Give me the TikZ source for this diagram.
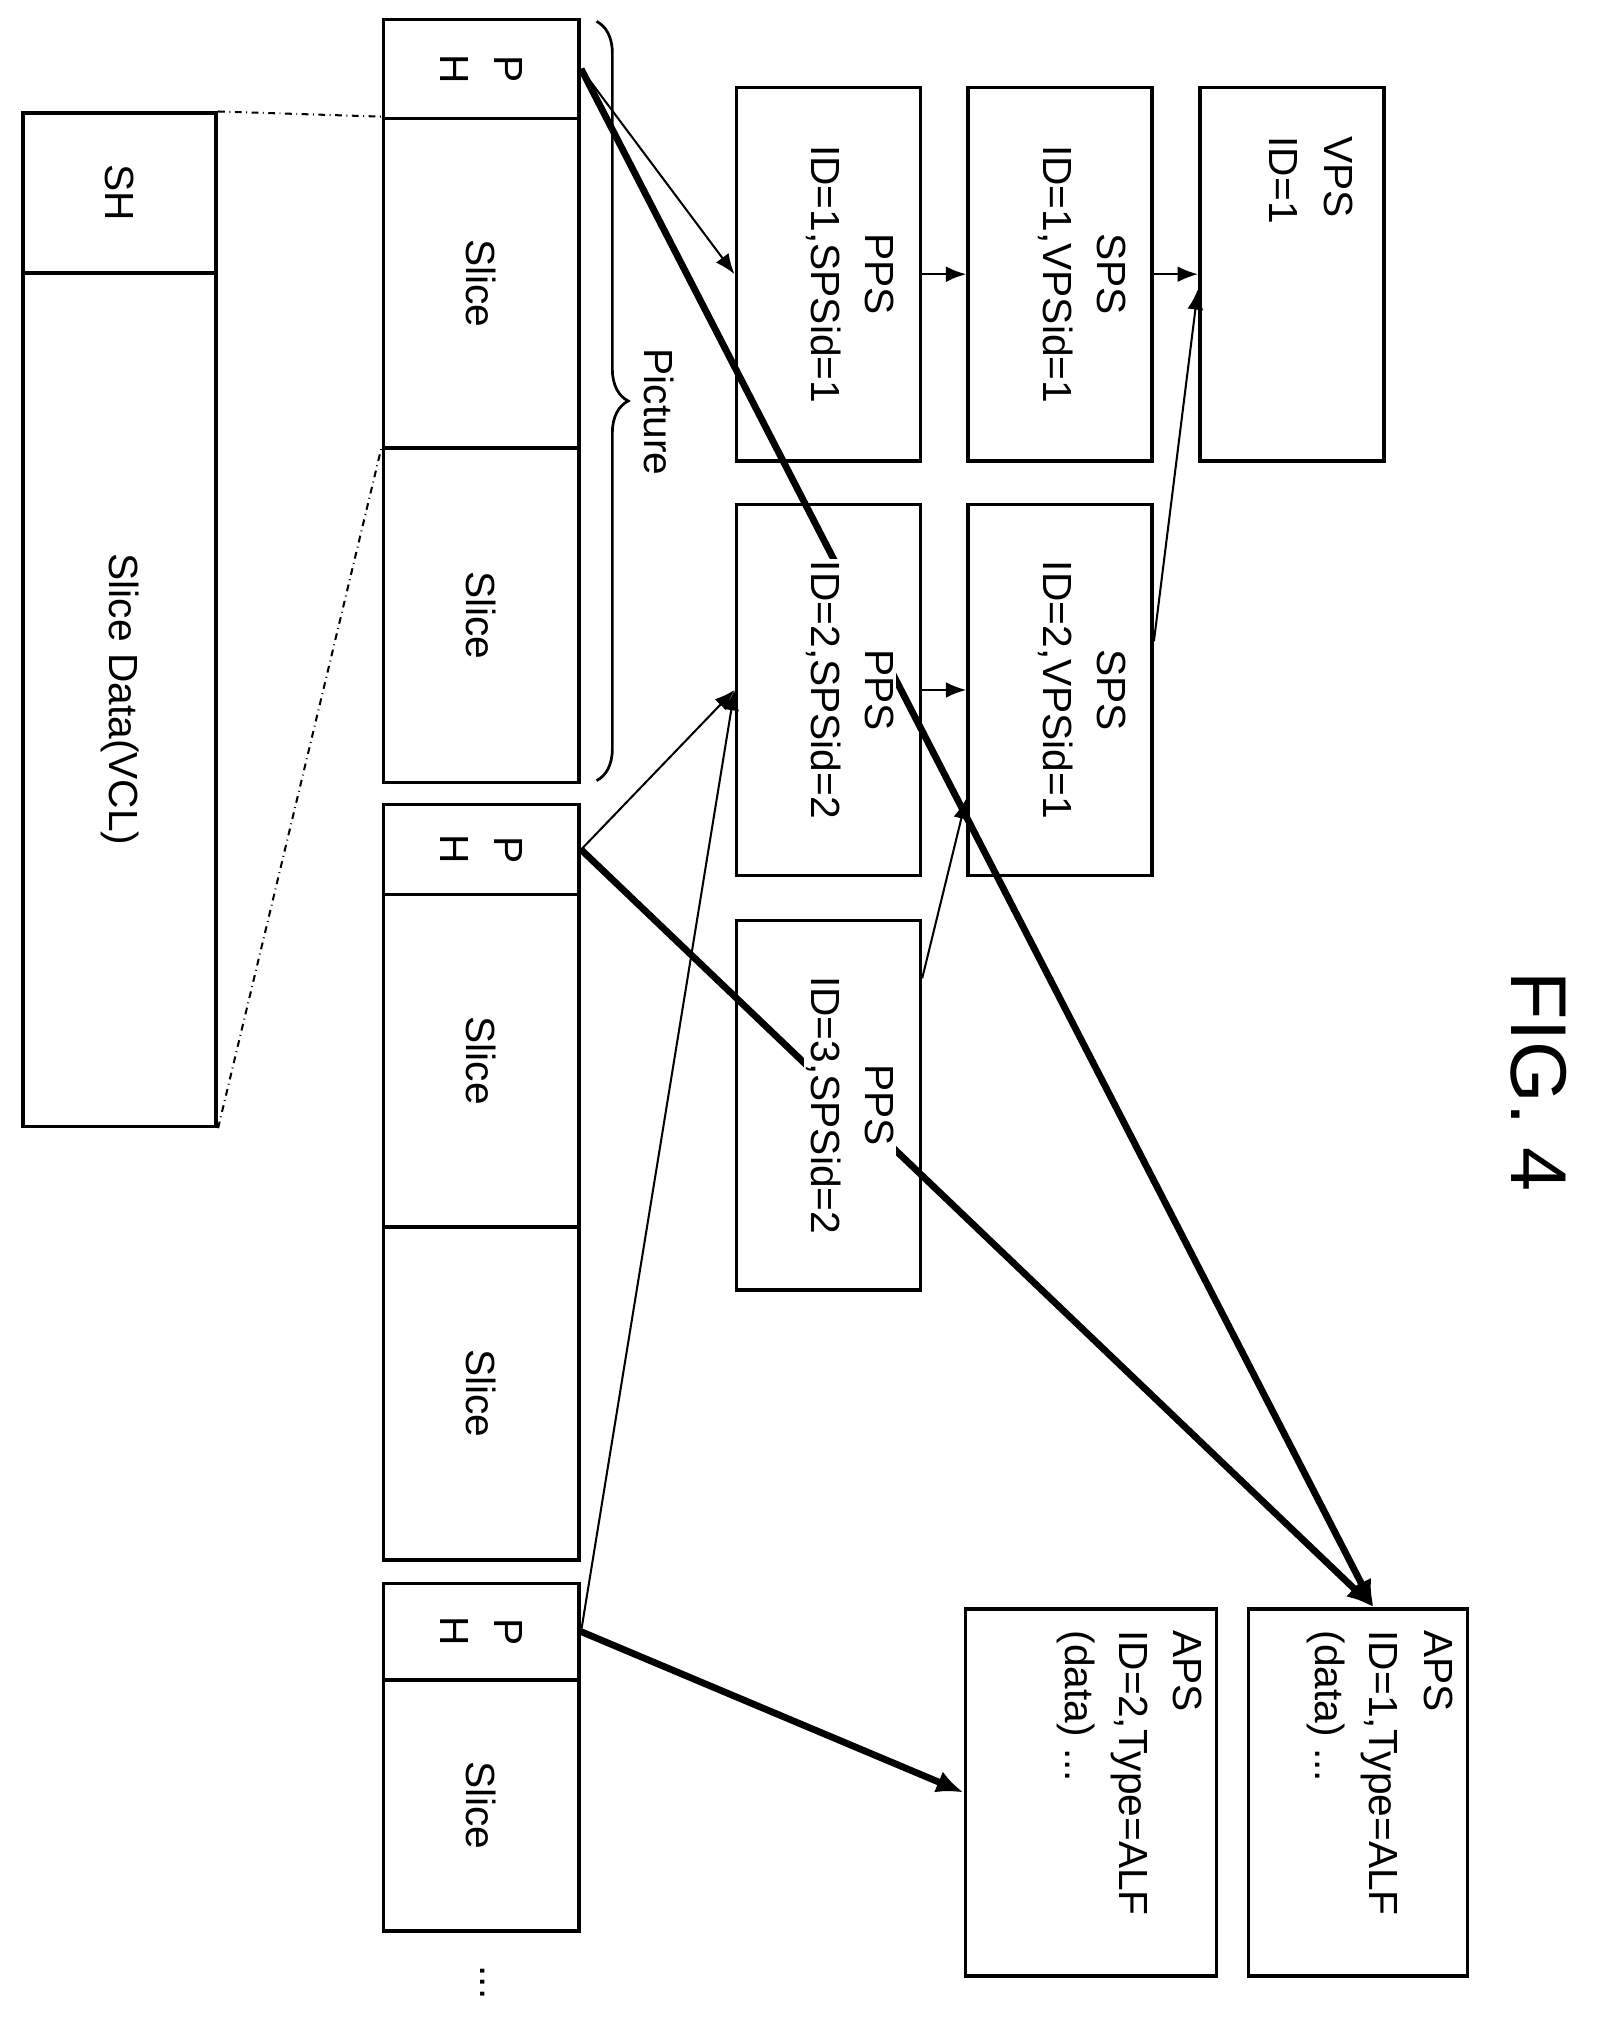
\documentclass[tikz,border=0pt]{standalone}
\usepackage{fontspec}
\setmainfont{Liberation Sans}
\usetikzlibrary{positioning}
\usetikzlibrary{calc}
\usetikzlibrary{fit, arrows.meta}
\usetikzlibrary{decorations.pathreplacing}
\tikzset{
	box/.style = {draw, line width=1.6pt, inner sep=0pt},
	txt/.style = {rotate=-90, align=center, inner sep=1pt, fill=white, font=\fontsize{18}{24}\selectfont},
	thin/.style = {-{Latex[length=9pt,width=7pt]}, line width=0.9pt},
	thick/.style = {-{Latex[length=12pt,width=10pt]}, line width=3pt},
	link/.style = {dash dot, line width=0.9pt}
}
\begin{document}
\begin{tikzpicture}[x=0.02cm, y=-0.02cm]
	\useasboundingbox (0,0) rectangle (1240,1570);
	% slice header and data
	\node (sh) [box, fit={(18,88) (168,212)}] {};
	\node (sd) [box, fit={(18,212) (168,875)}] {};
	% first picture
	\node (ph1) [box, fit={(298,15) (450,92)}] {};
	\node (s11) [box, fit={(298,92) (450,348)}] {};
	\node (s12) [box, fit={(298,348) (450,608)}] {};
	% second picture
	\node (ph2) [box, fit={(298,625) (450,695)}] {};
	\node (s21) [box, fit={(298,695) (450,953)}] {};
	\node (s22) [box, fit={(298,953) (450,1212)}] {};
	% third picture
	\node (ph3) [box, fit={(298,1230) (450,1305)}] {};
	\node (s31) [box, fit={(298,1305) (450,1500)}] {};
	% parameter sets
	\node (pps1) [box, fit={(572,68) (715,358)}] {};
	\node (sps1) [box, fit={(752,68) (895,358)}] {};
	\node (vps) [box, fit={(932,68) (1075,358)}] {};
	\node (pps2) [box, fit={(572,392) (715,680)}] {};
	\node (sps2) [box, fit={(752,392) (895,680)}] {};
	\node (pps3) [box, fit={(572,715) (715,1002)}] {};
	\node (aps2) [box, fit={(750,1250) (945,1535)}] {};
	\node (aps1) [box, fit={(970,1250) (1140,1535)}] {};

	% connectors
	\draw[link] (sh.north east) -- (s11.north west);
	\draw[link] (sd.south east) -- (s12.north west);
	\draw[thin] (ph1.east) -- (pps1.west);
	\draw[thick] (ph1.east) -- ($(aps1.north west)!0.57!(aps1.north east)$);
	\draw[thick] (ph2.east) -- ($(aps1.north west)!0.57!(aps1.north east)$);
	\draw[thin] (ph2.east) -- (pps2.west);
	\draw[thin] (ph3.east) -- (pps2.west);
	\draw[thick] (ph3.east) -- (aps2.west);
	\draw[thin] (pps1.east) -- (sps1.west);
	\draw[thin] (sps1.east) -- (vps.west);
	\draw[thin] (pps2.east) -- (sps2.west);
	\draw[thin] ($(sps2.north east)!0.37!(sps2.south east)$) -- ($(vps.north west)!0.54!(vps.south west)$);
	\draw[thin] ($(pps3.north east)!0.16!(pps3.south east)$) -- ($(sps2.north west)!0.79!(sps2.south west)$);
	\draw[decorate, decoration={brace, amplitude=14pt}, line width=1.2pt] ($(ph1.north east)+(12,3)$) -- ($(s12.south east)+(12,-3)$);

	% texts
	\node[txt] at (sh) {SH};
	\node[txt] at (sd) {Slice Data(VCL)};
	\node[txt] at (ph1) {P\\H};
	\node[txt] at (s11) {Slice};
	\node[txt] at (s12) {Slice};
	\node[txt] at (ph2) {P\\H};
	\node[txt] at (s21) {Slice};
	\node[txt] at (s22) {Slice};
	\node[txt] at (ph3) {P\\H};
	\node[txt] at (s31) {Slice};
	\node[txt] at (375,1540) {...};
	\node[txt] at (512,320) {Picture};
	\node[txt] at ($(pps1)+(17,0)$) {PPS\\ID=1,SPSid=1};
	\node[txt] at ($(sps1)+(17,0)$) {SPS\\ID=1,VPSid=1};
	\node[txt, align=left] at ($(vps)+(15,-73)$) {VPS\\ID=1};
	\node[txt] at ($(pps2)+(17,0)$) {PPS\\ID=2,SPSid=2};
	\node[txt] at ($(sps2)+(17,0)$) {SPS\\ID=2,VPSid=1};
	\node[txt] at ($(pps3)+(17,0)$) {PPS\\ID=3,SPSid=2};
	\node[txt, align=left] at ($(aps2)+(30,-15)$) {APS\\ID=2,Type=ALF\\(data) ...};
	\node[txt, align=left] at ($(aps1)+(17,-15)$) {APS\\ID=1,Type=ALF\\(data) ...};
	\node[txt, font=\fontsize{35}{42}\selectfont] at (1195,840) {FIG. 4};
\end{tikzpicture}
\end{document}
